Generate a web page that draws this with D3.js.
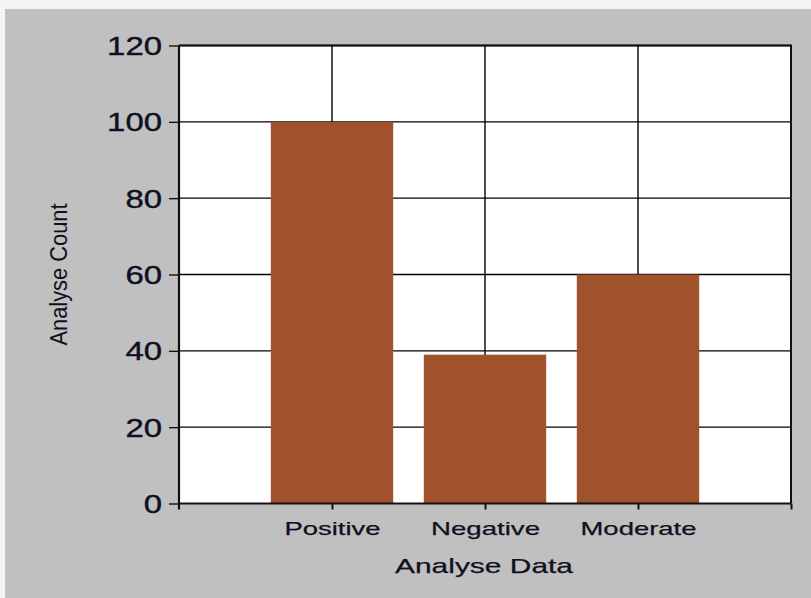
<!DOCTYPE html>
<html>
<head>
<meta charset="utf-8">
<script src="https://cdn.jsdelivr.net/npm/d3@7"></script>
<style>
  html, body { margin: 0; padding: 0; background: #f4f4f4; }
  svg { display: block; }
  text { font-family: "Liberation Sans", Arial, sans-serif; fill: #101020; }
</style>
</head>
<body>
<svg id="chart" width="811" height="598"></svg>
<script>
// Analyse results per category
const categories = ["Positive", "Negative", "Moderate"];
const counts = [100, 39, 60];
const yTicks = [0, 20, 40, 60, 80, 100, 120];
const xTitle = "Analyse Data";
const yTitle = "Analyse Count";

const W = 811, H = 598;
const plot = { left: 179, right: 791, top: 45.5, bottom: 503.5 };

const svg = d3.select("#chart");

// chart panel background
svg.append("rect")
  .attr("x", 5).attr("y", 9)
  .attr("width", W - 5).attr("height", H - 9)
  .attr("fill", "#c0c0c0");

// plot area
svg.append("rect")
  .attr("x", plot.left).attr("y", plot.top)
  .attr("width", plot.right - plot.left).attr("height", plot.bottom - plot.top)
  .attr("fill", "#ffffff");

// categories sit at positions 1..n on a 0..n+1 axis
const x = d3.scaleLinear().domain([0, categories.length + 1]).range([plot.left, plot.right]);
const y = d3.scaleLinear().domain([0, 120]).range([plot.bottom, plot.top]);
const barW = (x(1) - x(0)) * 0.8;

// horizontal gridlines
svg.append("g")
  .selectAll("line")
  .data(yTicks.filter(t => t > 0))
  .join("line")
  .attr("x1", plot.left).attr("x2", plot.right)
  .attr("y1", d => y(d)).attr("y2", d => y(d))
  .attr("stroke", "#000").attr("stroke-width", 1.4);

// vertical gridlines at each category
svg.append("g")
  .selectAll("line")
  .data(categories.map((c, i) => i + 1))
  .join("line")
  .attr("x1", d => x(d)).attr("x2", d => x(d))
  .attr("y1", plot.top).attr("y2", plot.bottom)
  .attr("stroke", "#000").attr("stroke-width", 1.4);

// bars
svg.append("g")
  .selectAll("rect")
  .data(counts)
  .join("rect")
  .attr("x", (d, i) => x(i + 1) - barW / 2)
  .attr("width", barW)
  .attr("y", d => y(d))
  .attr("height", d => y(0) - y(d))
  .attr("fill", "#a0522d");

// plot border (top and right)
svg.append("path")
  .attr("d", `M${plot.left},${plot.top}H${plot.right}V${plot.bottom}`)
  .attr("fill", "none").attr("stroke", "#111").attr("stroke-width", 2);

// y axis
const yAxis = d3.axisLeft(y).tickValues(yTicks).tickSize(10).tickPadding(7);
const gy = svg.append("g").attr("transform", `translate(${plot.left},0)`).call(yAxis);
gy.select(".domain").attr("stroke", "#111").attr("stroke-width", 2.2)
  .attr("d", `M0,${plot.top}V${plot.bottom + 6}`);
gy.selectAll(".tick line").attr("stroke", "#111").attr("stroke-width", 1.4);
gy.selectAll(".tick text")
  .style("font-size", "25px")
  .style("stroke", "#101020").style("stroke-width", "0.4px")
  .attr("dy", "0.36em")
  .attr("textLength", d => String(d).length * 18.3)
  .attr("lengthAdjust", "spacingAndGlyphs");

// x axis
const xAxis = d3.axisBottom(x)
  .tickValues(d3.range(1, categories.length + 2))
  .tickFormat(d => categories[d - 1] || "")
  .tickSize(6).tickPadding(12);
const gx = svg.append("g").attr("transform", `translate(0,${plot.bottom})`).call(xAxis);
gx.select(".domain").attr("stroke", "#111").attr("stroke-width", 2.2)
  .attr("d", `M${plot.left},0H${plot.right}`);
gx.selectAll(".tick line").attr("stroke", "#111").attr("stroke-width", 2);
const labelW = { Positive: 96, Negative: 109, Moderate: 116 };
gx.selectAll(".tick text")
  .style("font-size", "19px")
  .style("stroke", "#101020").style("stroke-width", "0.25px")
  .attr("textLength", d => labelW[categories[d - 1]] || 0)
  .attr("lengthAdjust", "spacingAndGlyphs");

// axis titles
svg.append("text")
  .attr("x", (plot.left + plot.right) / 2 - 1)
  .attr("y", 573)
  .attr("text-anchor", "middle")
  .style("font-size", "21px")
  .style("stroke", "#101020").style("stroke-width", "0.25px")
  .attr("textLength", 178)
  .attr("lengthAdjust", "spacingAndGlyphs")
  .text(xTitle);

svg.append("text")
  .attr("transform", `translate(67,${(plot.top + plot.bottom) / 2}) rotate(-90)`)
  .attr("text-anchor", "middle")
  .style("font-size", "23px")
  .attr("textLength", 142)
  .attr("lengthAdjust", "spacingAndGlyphs")
  .text(yTitle);
</script>
</body>
</html>
